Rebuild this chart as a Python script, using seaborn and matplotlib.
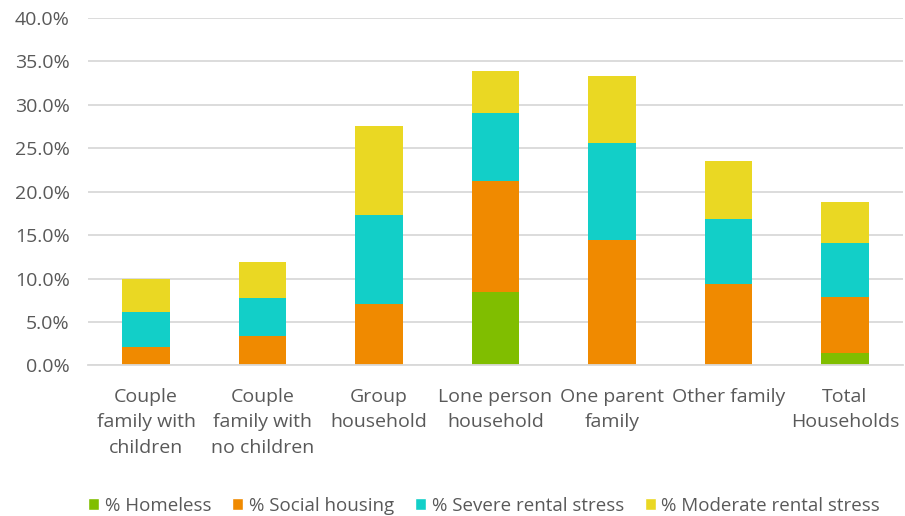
import seaborn as sns
import matplotlib.pyplot as plt
import numpy as np
import pandas as pd
from matplotlib.patches import Patch
from matplotlib.ticker import PercentFormatter

# categories and segment values (percent)
categories = ["Couple\nfamily with\nchildren", "Couple\nfamily with\nno children", "Group\nhousehold",
              "Lone person\nhousehold", "One parent\nfamily", "Other family", "Total\nHouseholds"]
homeless = [0.0, 0.0, 0.0, 8.4, 0.0, 0.0, 1.4]
social = [2.1, 3.4, 7.1, 12.8, 14.4, 9.4, 6.5]
severe = [4.1, 4.4, 10.2, 7.9, 11.2, 7.5, 6.2]
moderate = [3.7, 4.1, 10.3, 4.8, 7.7, 6.6, 4.7]

series = ["% Homeless", "% Social housing", "% Severe rental stress", "% Moderate rental stress"]
colors = ["#80BE00", "#F08A00", "#12CFC8", "#EAD823"]

df = pd.DataFrame({"cat": categories, "h": homeless, "s": social, "sev": severe, "m": moderate})
# cumulative tops so the bars can be layered from tallest to shortest
tops = np.cumsum(df[["h", "s", "sev", "m"]].values, axis=1)

sns.set_style("white")
plt.rcParams['font.family'] = ['Open Sans', 'DejaVu Sans']

fig, ax = plt.subplots(figsize=(9.05, 5.16), dpi=100)
fig.subplots_adjust(left=0.097, right=0.998, top=0.965, bottom=0.292)

for i in range(3, -1, -1):
    sns.barplot(x=df["cat"], y=tops[:, i], color=colors[i], width=0.405, saturation=1,
                ax=ax, linewidth=0)

ax.set_ylim(0, 40)
ax.set_yticks(np.arange(0, 40.1, 5))
ax.yaxis.set_major_formatter(PercentFormatter(decimals=1))
ax.grid(axis="y", color="#D9D9D9", linewidth=1.3)
ax.set_axisbelow(True)
ax.set_xlabel("")
ax.set_ylabel("")
sns.despine(left=True, top=True, right=True)
ax.spines["bottom"].set_color("#D9D9D9")
ax.spines["bottom"].set_linewidth(1.3)
ax.tick_params(axis="both", length=0, labelsize=14, colors="#595959")
ax.tick_params(axis="y", pad=13)
ax.tick_params(axis="x", pad=16)
for lbl in ax.get_xticklabels():
    lbl.set_linespacing(1.55)

handles = [Patch(facecolor=c, label=s) for c, s in zip(colors, series)]
fig.legend(handles=handles, loc="lower center", ncol=4, frameon=False, fontsize=13.5,
           handlelength=0.6, handleheight=0.6, handletextpad=0.3, columnspacing=1.1,
           labelcolor="#595959", bbox_to_anchor=(0.535, -0.03))

fig.savefig("out.png", dpi=100)
